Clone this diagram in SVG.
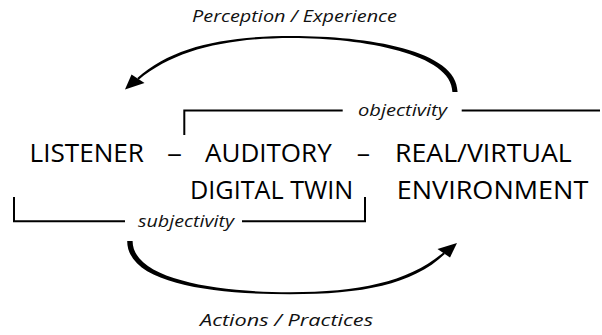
<svg xmlns="http://www.w3.org/2000/svg" width="602" height="335" viewBox="0 0 602 335">
<style>
.main{font-family:"Open Sans","Liberation Sans",sans-serif;font-size:25.5px;fill:#000}
.lab{font-family:"Open Sans","Liberation Sans",sans-serif;font-style:italic;font-size:17px;fill:#111}
.br{fill:none;stroke:#000;stroke-width:2}
.arr{fill:#000;stroke:none}
</style>
<rect width="602" height="335" fill="#fff"/>
<g id="connectors">
  <g id="perception-arrow">
    <path class="arr" d="M457.6,92 C457.6,50 367,36 292,36 C224,36 172,46.8 137.3,78.1 L138.7,79.7 C174,50.4 226,38 292,38 C363,38 452.4,54 452.4,92 Z"/>
    <polygon class="arr" points="125,89.5 131.5,74.5 144.5,83"/>
  </g>
  <g id="actions-arrow">
    <path class="arr" d="M127.2,241 C127.2,284 213,294.2 290,294.2 C362,294.2 412,285 444.8,254 L443.4,252.4 C409,281.6 360,292.2 290,292.2 C219,292.2 132.6,280 132.6,241 Z"/>
    <polygon class="arr" points="457,243 437.5,249 450,257.5"/>
  </g>
  <g id="objectivity-bracket">
    <polyline class="br" points="184.3,135 184.3,110.5 342.7,110.5"/>
    <line class="br" x1="461.7" y1="110.5" x2="600" y2="110.5"/>
  </g>
  <g id="subjectivity-bracket">
    <polyline class="br" points="14,197 14,221.3 125,221.3"/>
    <polyline class="br" points="242,221.3 365,221.3 365,197"/>
  </g>
</g>
<g id="label-perception"><text class="lab" x="192" y="22" font-size="18" textLength="205" lengthAdjust="spacingAndGlyphs">Perception / Experience</text></g>
<g id="label-actions"><text class="lab" x="200" y="326" font-size="18" textLength="173" lengthAdjust="spacingAndGlyphs">Actions / Practices</text></g>
<g id="label-objectivity"><text class="lab" x="358" y="116" textLength="89" lengthAdjust="spacingAndGlyphs">objectivity</text></g>
<g id="label-subjectivity"><text class="lab" x="138" y="227" textLength="96" lengthAdjust="spacingAndGlyphs">subjectivity</text></g>
<g id="node-listener"><text class="main" x="29.5" y="161.5" textLength="114.5" lengthAdjust="spacingAndGlyphs">LISTENER</text></g>
<g id="dash-1"><text class="main" x="167" y="161.5" textLength="15" lengthAdjust="spacingAndGlyphs">–</text></g>
<g id="node-auditory-digital-twin">
  <text class="main" x="205" y="161.5" textLength="126.7" lengthAdjust="spacingAndGlyphs">AUDITORY</text>
  <text class="main" x="190" y="198.5" textLength="163.3" lengthAdjust="spacingAndGlyphs">DIGITAL TWIN</text>
</g>
<g id="dash-2"><text class="main" x="356.7" y="161.5" textLength="13.3" lengthAdjust="spacingAndGlyphs">–</text></g>
<g id="node-environment">
  <text class="main" x="395" y="161.5" textLength="176.7" lengthAdjust="spacingAndGlyphs">REAL/VIRTUAL</text>
  <text class="main" x="396.7" y="198.8" textLength="191.6" lengthAdjust="spacingAndGlyphs">ENVIRONMENT</text>
</g>
</svg>
